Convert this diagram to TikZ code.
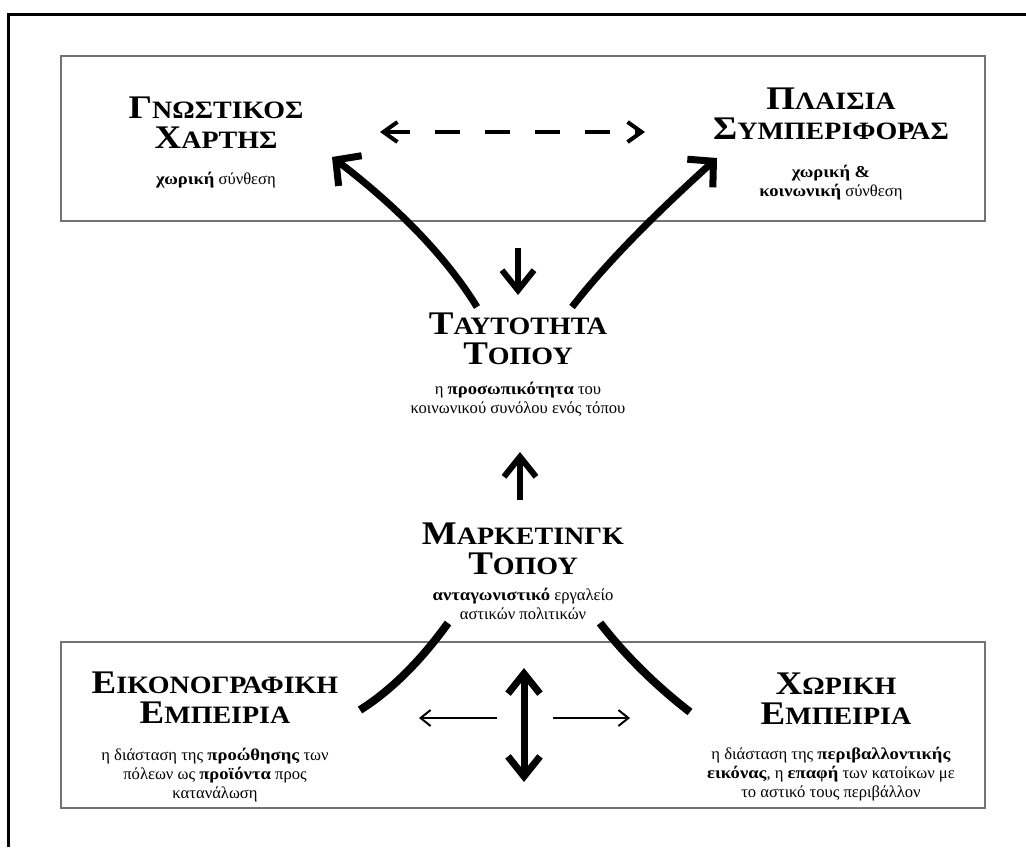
\documentclass[tikz,border=0pt]{standalone}
\usepackage{fontspec}
\setmainfont{Liberation Serif}[BoldFeatures={FakeStretch=1.12}]
\usetikzlibrary{positioning, arrows.meta}

% first letter large, the rest as small capitals
\newcommand{\fakesc}[2]{{\fontsize{16.5}{15}\selectfont #1}#2}

\begin{document}
\begin{tikzpicture}[
    x=0.5pt, y=-0.5pt,
    title/.style={font=\fontsize{12.5}{15}\selectfont\bfseries, align=center, inner sep=0pt, anchor=north},
    desc/.style={font=\fontsize{8.3}{9.6}\selectfont, align=center, inner sep=0pt},
    panel/.style={draw=black!55, line width=0.75pt},
    curvarr/.style={-{Straight Barb[length=9pt, width=19pt]}, line width=3.5pt},
    curvline/.style={line width=4pt},
    vertarr/.style={-{Straight Barb[length=10pt, width=16pt]}, line width=3pt},
    dvertarr/.style={{Straight Barb[length=10pt, width=16pt]}-{Straight Barb[length=10pt, width=16pt]}, line width=3.5pt},
    thinarr/.style={-{Straight Barb[length=5pt, width=8pt]}, line width=1pt},
    dasharr/.style={{Straight Barb[length=7pt, width=10pt]}-{Straight Barb[length=7pt, width=10pt]},
                    line width=2pt, dash pattern=on 12.5pt off 12.5pt},
  ]
  \useasboundingbox (0,0) rectangle (1026,847);

  % ── frame and panels ──
  \draw[line width=1.5pt] (8.5,847) -- (8.5,14.5) -- (1026,14.5);
  \draw[panel] (61,56) rectangle (985,221);
  \draw[panel] (61,642) rectangle (985,808);

  % ── top panel ──
  \node[title] (gnT) at (216,96) {\fakesc{Γ}{ΝΩΣΤΙΚΟΣ}\\\fakesc{Χ}{ΑΡΤΗΣ}};
  \node[desc, below=11.5pt of gnT] (gnD) {\textbf{χωρική} σύνθεση};

  \node[title] (plT) at (831,87) {\fakesc{Π}{ΛΑΙΣΙΑ}\\\fakesc{Σ}{ΥΜΠΕΡΙΦΟΡΑΣ}};
  \node[desc, below=12.5pt of plT] (plD) {\textbf{χωρική \&}\\\textbf{κοινωνική} σύνθεση};

  % ── middle ──
  \node[title] (taT) at (518,312) {\fakesc{Τ}{ΑΥΤΟΤΗΤΑ}\\\fakesc{Τ}{ΟΠΟΥ}};
  \node[desc, below=8.5pt of taT] (taD) {η \textbf{προσωπικότητα} του\\κοινωνικού συνόλου ενός τόπου};

  \node[title] (maT) at (523,522) {\fakesc{Μ}{ΑΡΚΕΤΙΝΓΚ}\\\fakesc{Τ}{ΟΠΟΥ}};
  \node[desc, below=6.5pt of maT] (maD) {\textbf{ανταγωνιστικό} εργαλείο\\αστικών πολιτικών};

  % ── bottom panel ──
  \node[title] (eiT) at (215,671) {\fakesc{Ε}{ΙΚΟΝΟΓΡΑΦΙΚΗ}\\\fakesc{Ε}{ΜΠΕΙΡΙΑ}};
  \node[desc, below=12pt of eiT] (eiD) {η διάσταση της \textbf{προώθησης} των\\πόλεων ως \textbf{προϊόντα} προς\\κατανάλωση};

  \node[title] (xoT) at (836,672) {\fakesc{Χ}{ΩΡΙΚΗ}\\\fakesc{Ε}{ΜΠΕΙΡΙΑ}};
  \node[desc, below=11pt of xoT, xshift=-2.5pt] (xoD) {η διάσταση της \textbf{περιβαλλοντικής}\\\textbf{εικόνας}, η \textbf{επαφή} των κατοίκων με\\το αστικό τους περιβάλλον};

  % ── connector ends ──
  \coordinate (dashL) at (380,132);
  \coordinate (dashR) at (645,132);
  \coordinate (gnIn) at (332,157);
  \coordinate (plIn) at (717,158);
  \coordinate (taOutL) at (477,307);
  \coordinate (taOutR) at (572,307);
  \coordinate (taTop) at (518,248);
  \coordinate (taIn) at (518,295);
  \coordinate (maOut) at (520,500);
  \coordinate (maIn) at (520,452);
  \coordinate (maL) at (448,623);
  \coordinate (maR) at (600,623);
  \coordinate (eiEnd) at (360,710);
  \coordinate (xoEnd) at (690,712);
  \coordinate (dblTop) at (524,668);
  \coordinate (dblBot) at (524,782);
  \coordinate (leftS) at (497,718);
  \coordinate (leftE) at (419,718);
  \coordinate (rightS) at (553,718);
  \coordinate (rightE) at (630,718);

  % ── arrows ──
  \draw[dasharr] (dashL) -- (dashR);
  \draw[curvarr] (taOutL) .. controls (445,255) and (395,205) .. (gnIn);
  \draw[curvarr] (taOutR) .. controls (610,258) and (665,205) .. (plIn);
  \draw[vertarr] (taTop) -- (taIn);
  \draw[vertarr] (maOut) -- (maIn);

  \draw[curvline] (maL) .. controls (425,655) and (395,688) .. (eiEnd);
  \draw[curvline] (maR) .. controls (625,655) and (655,685) .. (xoEnd);
  \draw[dvertarr] (dblTop) -- (dblBot);
  \draw[thinarr] (leftS) -- (leftE);
  \draw[thinarr] (rightS) -- (rightE);

\end{tikzpicture}
\end{document}
